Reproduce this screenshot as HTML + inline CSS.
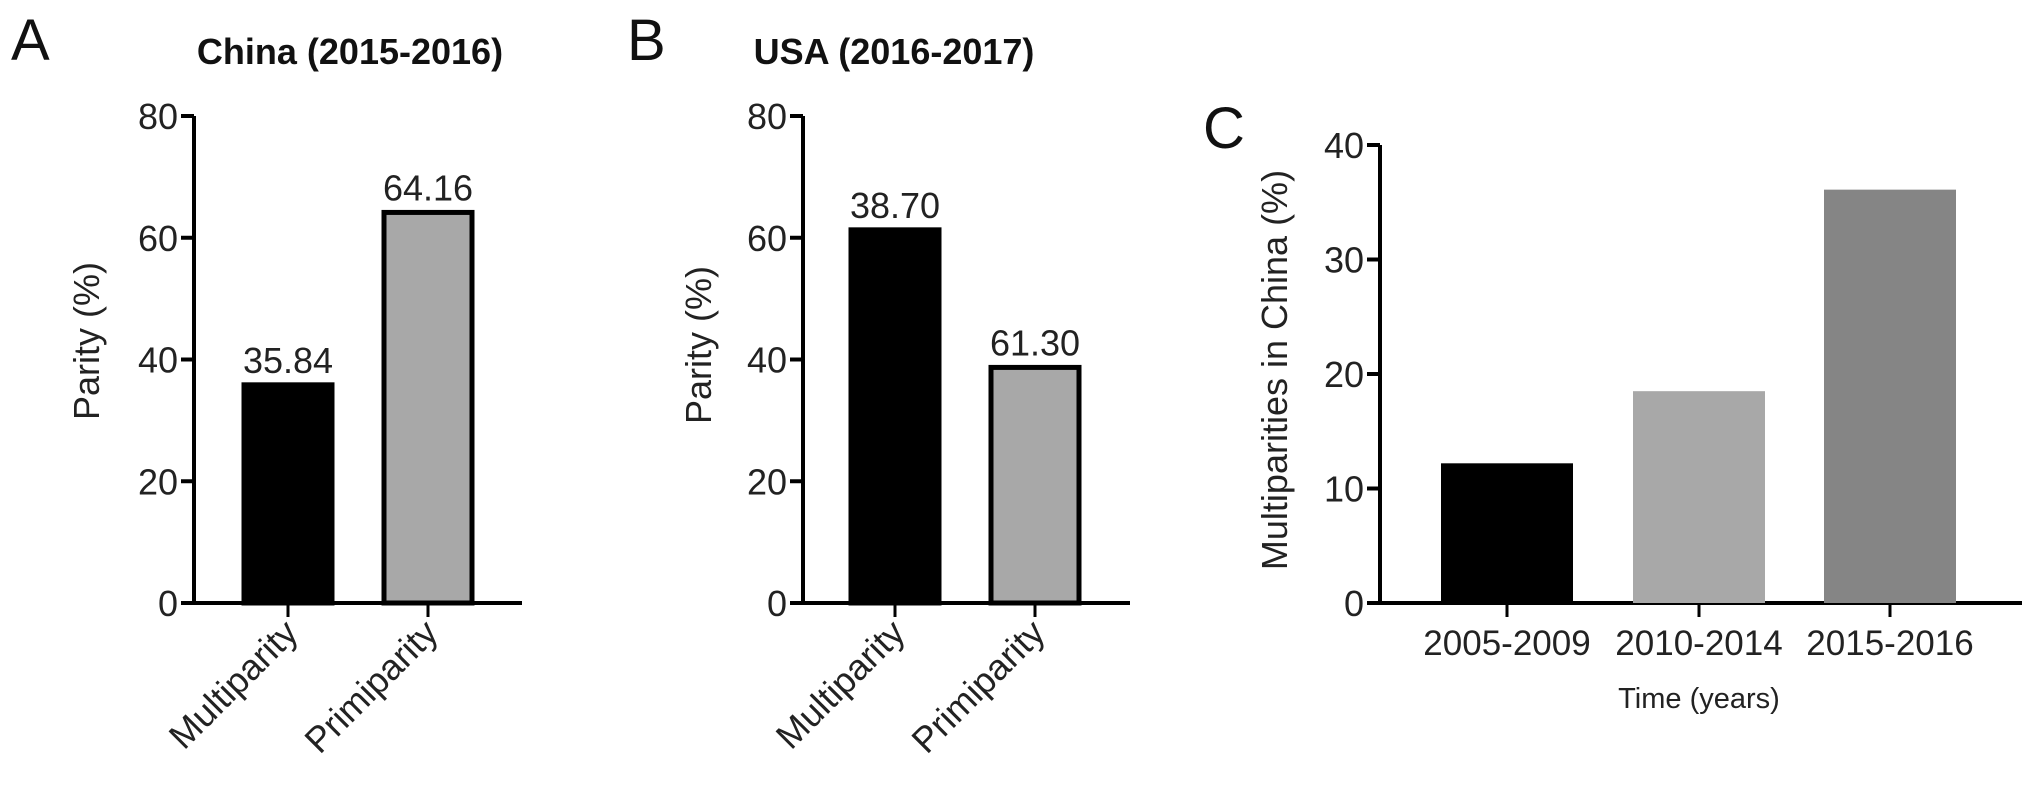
<!DOCTYPE html>
<html><head><meta charset="utf-8"><style>
html,body{margin:0;padding:0;background:#fff;}
svg{display:block;font-family:"Liberation Sans",Arial,sans-serif;}
</style></head><body>
<svg id="chart" width="2031" height="796" viewBox="0 0 2031 796">
</svg>
<script>
const catsAB = ["Multiparity","Primiparity"];
const valsA = [35.84, 64.16];
const labelsA = ["35.84","64.16"];
const valsB = [61.30, 38.70];
const labelsB = ["38.70","61.30"];
const ticksAB = [0,20,40,60,80];
const catsC = ["2005-2009","2010-2014","2015-2016"];
const valsC = [12.2, 18.5, 36.1];
const ticksC = [0,10,20,30,40];

const svg = document.getElementById('chart');
const NS = 'http://www.w3.org/2000/svg';
function el(tag, attrs, parent, text){
  const e = document.createElementNS(NS, tag);
  for (const k in attrs) e.setAttribute(k, attrs[k]);
  if (text !== undefined) e.textContent = text;
  (parent||svg).appendChild(e);
  return e;
}

function panel(cfg){
  const g = el('g', {});
  
  
  const y = v => cfg.y0 - v / cfg.max * (cfg.y0 - cfg.yTop);
  const ax = el('line', {x1:cfg.ax, y1:cfg.yTop, x2:cfg.ax, y2:cfg.y0+2, stroke:'#000','stroke-width':4}, g);
  
  
  cfg.ticks.forEach(t => {
    el('line', {x1:cfg.ax-13, y1:y(t), x2:cfg.ax, y2:y(t), stroke:'#000','stroke-width':4}, g);
    const tl = el('text', {x:cfg.ax-16, y:y(t)+13, 'text-anchor':'end','font-size':36, fill:'#222'}, g, String(t));
    
    
  });
  const xa = el('line', {x1:cfg.ax-13, y1:cfg.y0, x2:cfg.xEnd, y2:cfg.y0, stroke:'#000','stroke-width':4}, g);
  
  
  cfg.cats.forEach((c,i) => {
    const cx = cfg.centers[i];
    const v = cfg.vals[i];
    const top = y(v);
    const b = el('rect', {x:cx-cfg.bw/2, y:top, width:cfg.bw, height:cfg.y0-top, fill:cfg.colors[i],
      stroke: cfg.outline ? '#000' : 'none', 'stroke-width': cfg.outline ? 5 : 0}, g);
    
    
    el('line', {x1:cx, y1:cfg.y0, x2:cx, y2:cfg.y0+14, stroke:'#000','stroke-width':3}, g);
    if (cfg.labels){
      const vl = el('text', {x:cx, y:top-12, 'text-anchor':'middle','font-size':36, fill:'#222'}, g, cfg.labels[i]);
      
      
    }
    let xl;
    if (cfg.rotate){
      const px = cx + 12, py = cfg.y0 + 32;
      xl = el('text', {x:px, y:py, 'text-anchor':'end','font-size':36, fill:'#222',
        transform:`rotate(-45 ${px} ${py})`}, g, c);
    } else {
      xl = el('text', {x:cx, y:cfg.y0+52, 'text-anchor':'middle','font-size':35, fill:'#222'}, g, c);
    }
    
    
  });
  const yc = cfg.ytc;
  const yt = el('text', {x:cfg.ytx, y:yc, 'text-anchor':'middle','font-size':36, fill:'#222',
    transform:`rotate(-90 ${cfg.ytx} ${yc})`}, g, cfg.ytitle);
  
  
  return g;
}

panel({name:'panel-a', ax:194, y0:603, yTop:116, max:80, xEnd:522, ticks:ticksAB, cats:catsAB, vals:valsA,
  labels:labelsA, centers:[288,428], bw:88, colors:['#000','#a8a8a8'], outline:true, rotate:true,
  ytx:99, ytc:341, ytitle:'Parity (%)'});
panel({name:'panel-b', ax:803, y0:603, yTop:116, max:80, xEnd:1130, ticks:ticksAB, cats:catsAB, vals:valsB,
  labels:labelsB, centers:[895,1035], bw:88, colors:['#000','#a8a8a8'], outline:true, rotate:true,
  ytx:711, ytc:345, ytitle:'Parity (%)'});
panel({name:'panel-c', ax:1380, y0:603, yTop:145, max:40, xEnd:2022, ticks:ticksC, cats:catsC, vals:valsC,
  labels:null, centers:[1507,1699,1890], bw:132, colors:['#000','#a8a8a8','#858585'], outline:false, rotate:false,
  ytx:1287, ytc:370, ytitle:'Multiparities in China (%)'});

function txt(name, attrs, s){
  const t = el('text', attrs, svg, s);
  
  
}
txt('panel-a-letter', {x:11, y:60, 'font-size':58, fill:'#111'}, 'A');
txt('panel-b-letter', {x:627, y:60, 'font-size':58, fill:'#111'}, 'B');
txt('panel-c-letter', {x:1203, y:148, 'font-size':58, fill:'#111'}, 'C');
txt('panel-a-title', {x:350, y:64, 'text-anchor':'middle','font-size':36,'font-weight':'bold', fill:'#111'}, 'China (2015-2016)');
txt('panel-b-title', {x:894, y:64, 'text-anchor':'middle','font-size':36,'font-weight':'bold', fill:'#111'}, 'USA (2016-2017)');
txt('x-axis-title', {x:1699, y:708, 'text-anchor':'middle','font-size':29, fill:'#222'}, 'Time (years)');
</script>
</body></html>
